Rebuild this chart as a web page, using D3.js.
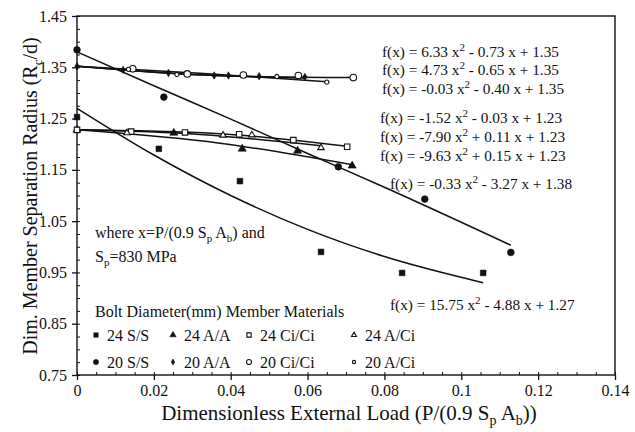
<!DOCTYPE html>
<html>
<head>
<meta charset="utf-8">
<script src="https://cdn.jsdelivr.net/npm/d3@7"></script>
<style>
  body { margin: 0; background: #fff; }
  svg text { font-family: "Liberation Serif", "DejaVu Serif", serif; fill: #111; }
</style>
</head>
<body>
<svg id="chart" width="635" height="432"></svg>
<script>
// ---------------------------------------------------------
// data
// ---------------------------------------------------------
const xTicks      = [0, 0.02, 0.04, 0.06, 0.08, 0.1, 0.12, 0.14];
const xTickLabels = ["0", "0.02", "0.04", "0.06", "0.08", "0.1", "0.12", "0.14"];
const yTicks      = [0.75, 0.85, 0.95, 1.05, 1.15, 1.25, 1.35, 1.45];
const yTickLabels = ["0.75", "0.85", "0.95", "1.05", "1.15", "1.25", "1.35", "1.45"];

// measured points, [load, radius]
const pts24SS   = [[0, 1.253], [0.0213, 1.191], [0.0424, 1.128], [0.0635, 0.990], [0.0846, 0.949], [0.1057, 0.949]];
const pts24AA   = [[0, 1.228], [0.0252, 1.222], [0.043, 1.191], [0.0574, 1.187], [0.0716, 1.158]];
const pts24CiCi = [[0, 1.228], [0.0141, 1.2245], [0.0281, 1.223], [0.0422, 1.2195], [0.0563, 1.208], [0.0703, 1.195]];
const pts24ACi  = [[0.013, 1.222], [0.038, 1.2175], [0.0455, 1.218], [0.0635, 1.193]];
const pts20SS   = [[0, 1.384], [0.0226, 1.292], [0.068, 1.156], [0.0905, 1.093], [0.1129, 0.989]];
const pts20AA   = [[0, 1.352], [0.012, 1.345], [0.0238, 1.339], [0.0357, 1.334], [0.0394, 1.334], [0.0474, 1.3325], [0.0593, 1.331]];
const pts20CiCi = [[0.0145, 1.347], [0.0287, 1.337], [0.0433, 1.335], [0.0576, 1.334], [0.0719, 1.330]];
const pts20ACi  = [[0.0134, 1.346], [0.026, 1.336], [0.052, 1.332], [0.065, 1.321]];

// fitted curves
const fit24SS   = [[0, 1.270], [0.02, 1.179], [0.04, 1.100], [0.06, 1.034], [0.08, 0.981], [0.1057, 0.930]];
const fit20SS   = [[0, 1.380], [0.02, 1.314], [0.04, 1.249], [0.06, 1.182], [0.08, 1.116], [0.1129, 1.003]];
const fit20CiCi = [[0, 1.352], [0.036, 1.334], [0.0719, 1.330]];
const fit20AA   = [[0, 1.352], [0.03, 1.336], [0.0593, 1.329]];
const fit20ACi  = [[0, 1.352], [0.033, 1.338], [0.065, 1.322]];
const fit24CiCi = [[0, 1.228], [0.036, 1.221], [0.0703, 1.196]];
const fit24ACi  = [[0, 1.228], [0.032, 1.219], [0.0635, 1.197]];
const fit24AA   = [[0, 1.228], [0.0372, 1.202], [0.0716, 1.160]];

// equations shown on the chart: a x^2 + b x + c
const eqA = ["6.33", "4.73", "-0.03", "-1.52", "-7.90", "-9.63", "-0.33", "15.75"];
const eqB = ["- 0.73", "- 0.65", "- 0.40", "- 0.03", "+ 0.11", "+ 0.15", "- 3.27", "- 4.88"];
const eqC = ["1.35", "1.35", "1.35", "1.23", "1.23", "1.23", "1.38", "1.27"];

const legendNames = ["24 S/S", "24 A/A", "24 Ci/Ci", "24 A/Ci", "20 S/S", "20 A/A", "20 Ci/Ci", "20 A/Ci"];

// ---------------------------------------------------------
// setup
// ---------------------------------------------------------
const svg = d3.select("#chart");
const margin = { top: 16, right: 20, bottom: 57, left: 77 };
const W = 635, H = 432;

const x = d3.scaleLinear().domain([0, 0.14]).range([margin.left, W - margin.right]);
const y = d3.scaleLinear().domain([0.75, 1.45]).range([H - margin.bottom, margin.top]);

const ink = "#111";

// frame
svg.append("rect")
  .attr("x", x(0)).attr("y", y(1.45))
  .attr("width", x(0.14) - x(0)).attr("height", y(0.75) - y(1.45))
  .attr("fill", "none").attr("stroke", ink).attr("stroke-width", 1.4);

// x axis: majors outside, minors inside
const xAxis = svg.append("g")
  .attr("transform", `translate(0,${y(0.75)})`)
  .call(d3.axisBottom(x).tickValues(xTicks).tickSize(5).tickPadding(5)
    .tickFormat((d, i) => xTickLabels[i]));
xAxis.select(".domain").remove();
xAxis.selectAll("line").attr("stroke", ink).attr("stroke-width", 1.3);
xAxis.selectAll("text").attr("font-size", 16).attr("fill", ink)
  .attr("font-family", "Liberation Serif");

svg.append("g")
  .attr("transform", `translate(0,${y(0.75)})`)
  .call(d3.axisBottom(x).tickValues(d3.range(0, 0.1401, 0.005)).tickSize(-3).tickFormat(""))
  .call(g => g.select(".domain").remove())
  .selectAll("line").attr("stroke", ink).attr("stroke-width", 1);

// y axis
const yAxis = svg.append("g")
  .attr("transform", `translate(${x(0)},0)`)
  .call(d3.axisLeft(y).tickValues(yTicks).tickSize(5).tickPadding(5)
    .tickFormat((d, i) => yTickLabels[i]));
yAxis.select(".domain").remove();
yAxis.selectAll("line").attr("stroke", ink).attr("stroke-width", 1.3);
yAxis.selectAll("text").attr("font-size", 16).attr("fill", ink)
  .attr("font-family", "Liberation Serif");

svg.append("g")
  .attr("transform", `translate(${x(0)},0)`)
  .call(d3.axisLeft(y).tickValues(d3.range(0.75, 1.4501, 0.025)).tickSize(-3).tickFormat(""))
  .call(g => g.select(".domain").remove())
  .selectAll("line").attr("stroke", ink).attr("stroke-width", 1);

// ---------------------------------------------------------
// fit lines
// ---------------------------------------------------------
const line = d3.line()
  .x(d => x(d[0])).y(d => y(d[1]))
  .curve(d3.curveMonotoneX);

const fits = [fit24SS, fit20SS, fit20CiCi, fit20AA, fit20ACi, fit24CiCi, fit24ACi, fit24AA];
svg.append("g").selectAll("path")
  .data(fits)
  .join("path")
    .attr("d", line)
    .attr("fill", "none")
    .attr("stroke", ink)
    .attr("stroke-width", 1.5);

// ---------------------------------------------------------
// markers
// ---------------------------------------------------------
const styles = [
  { type: d3.symbolSquare,   size: 32, fill: true  },  // 24 S/S
  { type: d3.symbolTriangle, size: 28, fill: true  },  // 24 A/A
  { type: d3.symbolSquare,   size: 30, fill: false },  // 24 Ci/Ci
  { type: d3.symbolTriangle, size: 18, fill: false },  // 24 A/Ci
  { type: d3.symbolCircle,   size: 36, fill: true  },  // 20 S/S
  { type: d3.symbolDiamond,  size: 16, fill: true  },  // 20 A/A
  { type: d3.symbolCircle,   size: 34, fill: false },  // 20 Ci/Ci
  { type: d3.symbolCircle,   size: 14, fill: false }   // 20 A/Ci
];
const series = [pts24SS, pts24AA, pts24CiCi, pts24ACi, pts20SS, pts20AA, pts20CiCi, pts20ACi];

function drawSym(g, s, k = 1) {
  g.attr("d", d3.symbol().type(s.type).size(s.size * k))
   .attr("fill", s.fill ? ink : "#fff")
   .attr("stroke", ink)
   .attr("stroke-width", s.fill ? 0.6 : 1.1);
}

series.forEach((pts, i) => {
  svg.append("g").selectAll("path")
    .data(pts)
    .join("path")
      .attr("transform", d => `translate(${x(d[0])},${y(d[1])})`)
      .call(drawSym, styles[i]);
});

// ---------------------------------------------------------
// equations
// ---------------------------------------------------------
const eqPos = [[382, 57], [382, 75], [382, 94], [380, 123], [380, 142], [380, 161], [390, 189], [390, 310]];

eqA.forEach((a, i) => {
  const t = svg.append("text")
    .attr("x", eqPos[i][0]).attr("y", eqPos[i][1])
    .attr("font-size", 15.3);
  t.append("tspan").text(`f(x) = ${a} x`);
  t.append("tspan").attr("dy", -6).attr("font-size", 11).text("2");
  t.append("tspan").attr("dy", 6).text(` ${eqB[i]} x + ${eqC[i]}`);
});

// note
const note = svg.append("text").attr("x", 95).attr("y", 238).attr("font-size", 16);
note.append("tspan").text("where x=P/(0.9 S");
note.append("tspan").attr("dy", 4).attr("font-size", 11).text("p");
note.append("tspan").attr("dy", -4).text(" A");
note.append("tspan").attr("dy", 4).attr("font-size", 11).text("b");
note.append("tspan").attr("dy", -4).text(") and");

const note2 = svg.append("text").attr("x", 95).attr("y", 262).attr("font-size", 16);
note2.append("tspan").text("S");
note2.append("tspan").attr("dy", 4).attr("font-size", 11).text("p");
note2.append("tspan").attr("dy", -4).text("=830 MPa");

// ---------------------------------------------------------
// legend (markers drawn smaller, as in the original)
// ---------------------------------------------------------
svg.append("text").attr("x", 95).attr("y", 317).attr("font-size", 16)
  .text("Bolt Diameter(mm) Member Materials");

const colX = [96, 173, 249, 354];
const rowY = [335, 362];
legendNames.forEach((name, i) => {
  const cx = colX[i % 4], cy = rowY[Math.floor(i / 4)];
  svg.append("path")
    .attr("transform", `translate(${cx},${cy})`)
    .call(drawSym, styles[i], 0.6);
  svg.append("text")
    .attr("x", cx + 11).attr("y", cy + 5.5)
    .attr("font-size", 16)
    .text(name);
});

// ---------------------------------------------------------
// axis titles
// ---------------------------------------------------------
const xt = svg.append("text")
  .attr("x", 349).attr("y", 420)
  .attr("text-anchor", "middle")
  .attr("font-size", 21);
xt.append("tspan").text("Dimensionless External Load (P/(0.9 S");
xt.append("tspan").attr("dy", 5).attr("font-size", 14).text("p");
xt.append("tspan").attr("dy", -5).text(" A");
xt.append("tspan").attr("dy", 5).attr("font-size", 14).text("b");
xt.append("tspan").attr("dy", -5).text("))");

const yt = svg.append("text")
  .attr("transform", `translate(37,196) rotate(-90)`)
  .attr("text-anchor", "middle")
  .attr("font-size", 20);
yt.append("tspan").text("Dim. Member Separation Radius (R");
yt.append("tspan").attr("dy", 5).attr("font-size", 13).text("c");
yt.append("tspan").attr("dy", -5).text("/d)");
</script>
</body>
</html>
